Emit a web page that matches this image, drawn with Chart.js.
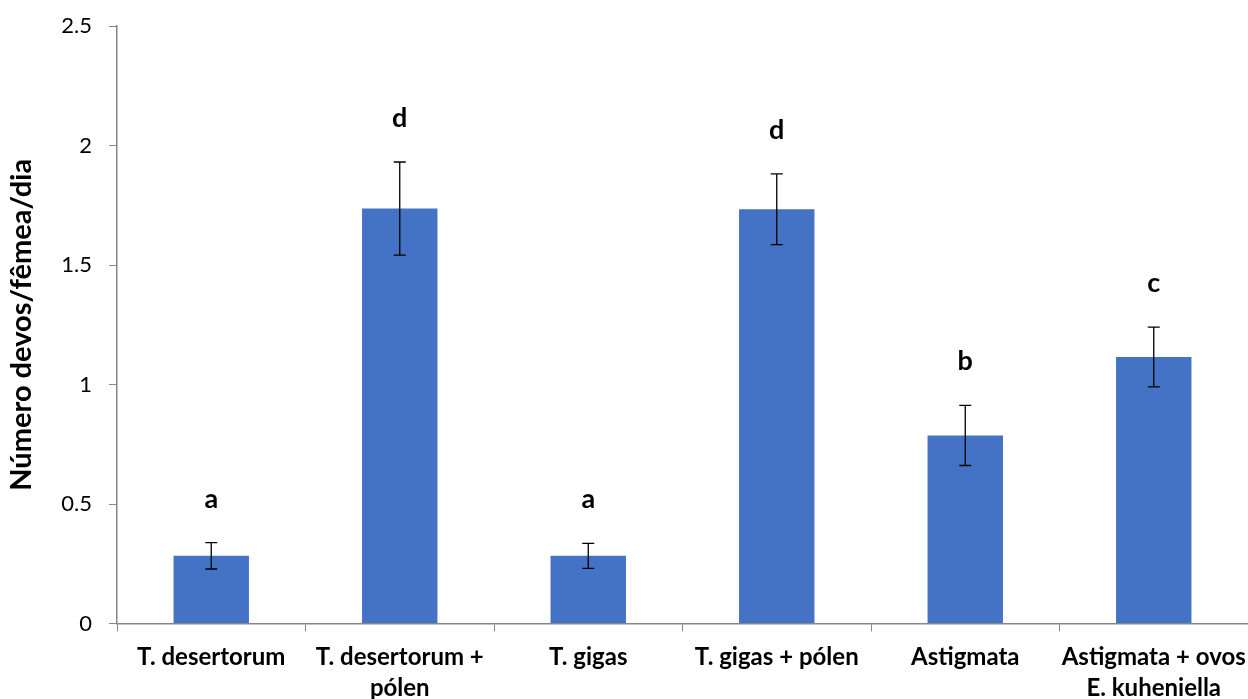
<!DOCTYPE html>
<html>
<head>
<meta charset="utf-8">
<script src="https://cdn.jsdelivr.net/npm/chart.js@4.4.1/dist/chart.umd.min.js"></script>
<style>
  html, body { margin: 0; padding: 0; background: #fff; }
  #wrap { width: 1248px; height: 699px; position: relative; }
</style>
</head>
<body>
<div id="wrap"><canvas id="c" width="1248" height="699"></canvas></div>
<script>
const categories = [
  ["T. desertorum"],
  ["T. desertorum +", "pólen"],
  ["T. gigas"],
  ["T. gigas + pólen"],
  ["Astigmata"],
  ["Astigmata + ovos", "E. kuheniella"]
];
const means = [0.283, 1.736, 0.283, 1.733, 0.787, 1.115];
const errors = [0.055, 0.195, 0.052, 0.148, 0.126, 0.125];
const letters = ["a", "d", "a", "d", "b", "c"];
const yTicks = [0, 0.5, 1, 1.5, 2, 2.5];

const FONT = "Lato, 'Open Sans', sans-serif";

const errorBarPlugin = {
  id: 'errorBars',
  afterDatasetsDraw(chart) {
    const ctx = chart.ctx;
    const meta = chart.getDatasetMeta(0);
    const yScale = chart.scales.y;
    ctx.save();
    meta.data.forEach((bar, i) => {
      const x = bar.x;
      const yTop = yScale.getPixelForValue(means[i] + errors[i]);
      const yBot = yScale.getPixelForValue(means[i] - errors[i]);
      ctx.strokeStyle = '#000';
      ctx.lineWidth = 1.3;
      ctx.beginPath();
      ctx.moveTo(x, yTop); ctx.lineTo(x, yBot);
      ctx.moveTo(x - 6, yTop); ctx.lineTo(x + 6, yTop);
      ctx.moveTo(x - 6, yBot); ctx.lineTo(x + 6, yBot);
      ctx.stroke();
      ctx.fillStyle = '#000';
      ctx.font = "bold 27px " + FONT;
      ctx.textAlign = 'center';
      ctx.textBaseline = 'alphabetic';
      ctx.fillText(letters[i], x, yTop - 35);
    });
    ctx.restore();
  }
};

new Chart(document.getElementById('c'), {
  type: 'bar',
  data: {
    labels: categories,
    datasets: [{
      data: means,
      backgroundColor: '#4472C4',
      borderWidth: 0,
      categoryPercentage: 1.0,
      barPercentage: 0.4
    }]
  },
  options: {
    responsive: false,
    animation: false,
    devicePixelRatio: 1,
    layout: { padding: { top: 26, left: 0, right: 0, bottom: 0 }, autoPadding: false },
    plugins: { legend: { display: false }, tooltip: { enabled: false } },
    scales: {
      x: {
        offset: true,
        grid: { display: true, drawOnChartArea: false, drawTicks: true, tickLength: 8, color: '#868686', offset: true },
        border: { display: true, color: '#868686', width: 1.5 },
        ticks: {
          color: '#000',
          font: { family: FONT, size: 24, weight: 'bold', lineHeight: 1.3 },
          padding: 10,
          maxRotation: 0,
          autoSkip: false
        },
        afterFit(scale) {
          scale.height = 75.5;
          scale.paddingLeft = 0; scale.paddingRight = 0;
        }
      },
      y: {
        min: 0,
        max: 2.5,
        afterBuildTicks(scale) { scale.ticks = yTicks.map(v => ({ value: v })); },
        grid: { display: true, drawOnChartArea: false, drawTicks: true, tickLength: 8, color: '#868686' },
        border: { display: true, color: '#868686', width: 1.5 },
        ticks: {
          color: '#000',
          font: { family: FONT, size: 22 },
          padding: 17,
          callback: (v) => String(v)
        },
        title: {
          display: true,
          text: 'Número devos/fêmea/dia',
          color: '#000',
          font: { family: FONT, size: 29, weight: 'bold' },
          padding: { top: 4, bottom: 0 }
        },
        afterFit(scale) {
          scale.width = 117;
          scale.paddingTop = 0; scale.paddingBottom = 0;
        }
      }
    }
  },
  plugins: [errorBarPlugin]
});
</script>
</body>
</html>
